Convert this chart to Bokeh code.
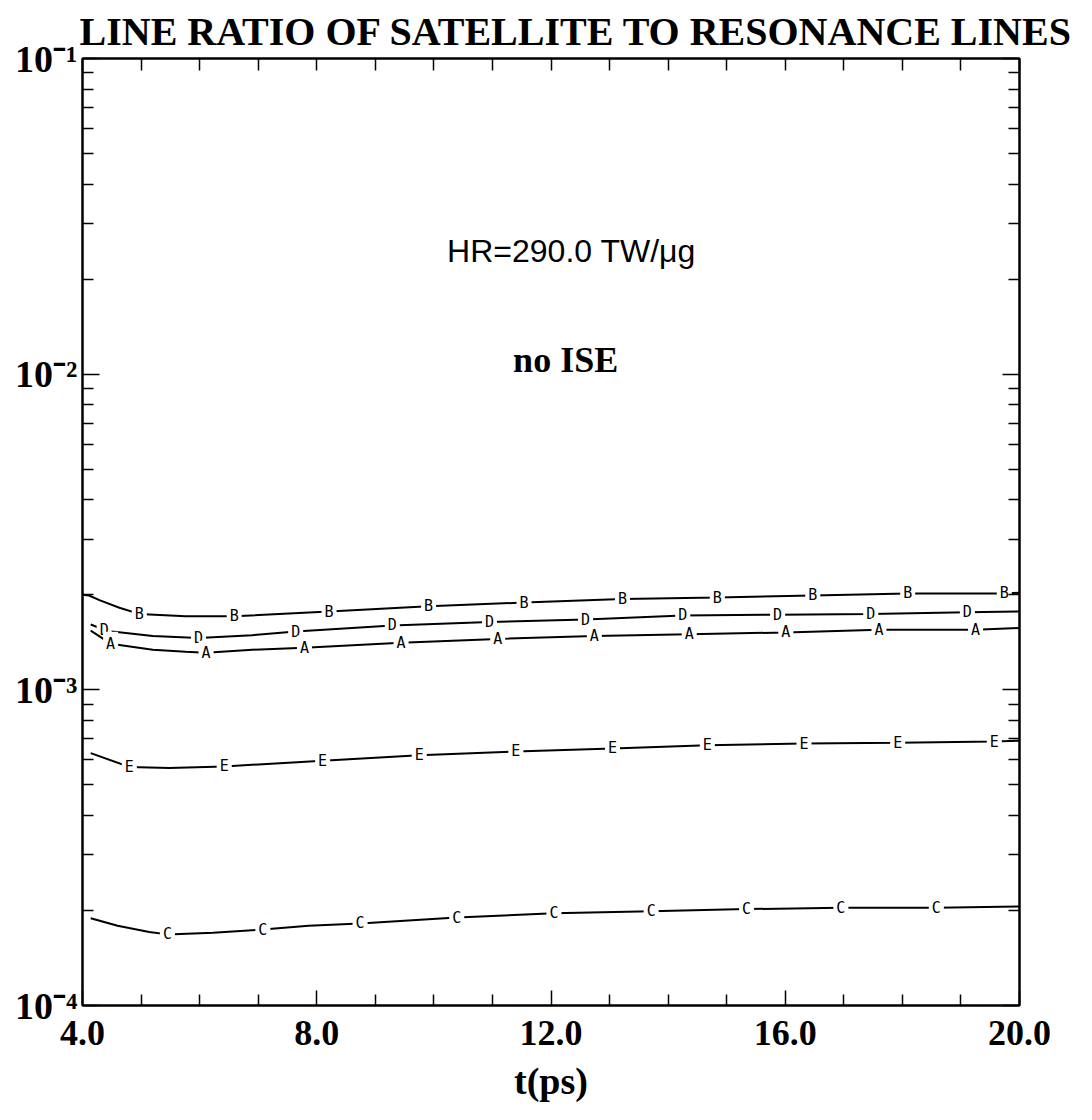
from bokeh.plotting import figure
from bokeh.models import FixedTicker, LinearAxis, LogAxis, Label
from bokeh.core.properties import value
from bokeh.embed import file_html
from bokeh.resources import INLINE

# ---------------- data ----------------
title_text = "LINE RATIO OF SATELLITE TO RESONANCE LINES"
x_axis_label = "t(ps)"
x_major_ticks = [4, 8, 12, 16, 20]
x_minor_ticks = [5, 6, 7, 9, 10, 11, 13, 14, 15, 17, 18, 19]
x_tick_labels = {4: "4.0", 8: "8.0", 12: "12.0", 16: "16.0", 20: "20.0"}
x_top_ticks = list(range(4, 21))
y_decades = [1e-4, 1e-3, 1e-2, 1e-1]
y_tick_labels = ["10\u207b\u2074", "10\u207b\u00b3", "10\u207b\u00b2", "10\u207b\u00b9"]
y_mantissas = [2, 3, 4, 5, 6, 7, 8, 9]

t_B = [4.0, 4.11, 4.30, 4.63, 4.97, 5.76, 6.59, 8.21, 9.91, 11.54, 13.22, 14.84, 16.47, 18.09, 19.74, 20.0]
v_B = [2.00e-3, 1.99e-3, 1.92e-3, 1.82e-3, 1.74e-3, 1.71e-3, 1.71e-3, 1.77e-3, 1.84e-3, 1.89e-3,
       1.94e-3, 1.96e-3, 1.99e-3, 2.02e-3, 2.02e-3, 2.03e-3]
lab_B = [4.97, 6.59, 8.21, 9.91, 11.54, 13.22, 14.84, 16.47, 18.09, 19.74]

t_D = [4.14, 4.37, 4.51, 5.20, 5.98, 6.90, 7.64, 9.29, 10.95, 12.59, 14.25, 15.87, 17.46, 19.11, 20.0]
v_D = [1.61e-3, 1.55e-3, 1.53e-3, 1.48e-3, 1.46e-3, 1.49e-3, 1.53e-3, 1.60e-3, 1.64e-3, 1.67e-3,
       1.72e-3, 1.73e-3, 1.74e-3, 1.76e-3, 1.77e-3]
lab_D = [4.37, 5.98, 7.64, 9.29, 10.95, 12.59, 14.25, 15.87, 17.46, 19.11]

t_A = [4.14, 4.48, 5.20, 5.76, 6.11, 6.90, 7.79, 9.44, 11.09, 12.74, 14.36, 16.01, 17.60, 19.25, 20.0]
v_A = [1.54e-3, 1.40e-3, 1.34e-3, 1.32e-3, 1.31e-3, 1.34e-3, 1.36e-3, 1.41e-3, 1.45e-3, 1.48e-3,
       1.50e-3, 1.52e-3, 1.55e-3, 1.55e-3, 1.57e-3]
lab_A = [4.48, 6.11, 7.79, 9.44, 11.09, 12.74, 14.36, 16.01, 17.60, 19.25]

t_E = [4.14, 4.80, 5.48, 6.42, 8.10, 9.75, 11.40, 13.05, 14.67, 16.32, 17.92, 19.57, 20.0]
v_E = [6.30e-4, 5.70e-4, 5.65e-4, 5.72e-4, 5.96e-4, 6.21e-4, 6.38e-4, 6.52e-4, 6.68e-4, 6.76e-4,
       6.80e-4, 6.86e-4, 6.90e-4]
lab_E = [4.80, 6.42, 8.10, 9.75, 11.40, 13.05, 14.67, 16.32, 17.92, 19.57]

t_C = [4.14, 4.60, 5.14, 5.45, 6.23, 7.08, 7.86, 8.74, 10.39, 12.05, 13.71, 15.34, 16.95, 18.58, 20.0]
v_C = [1.89e-4, 1.79e-4, 1.71e-4, 1.68e-4, 1.70e-4, 1.74e-4, 1.79e-4, 1.82e-4, 1.90e-4, 1.96e-4,
       1.99e-4, 2.02e-4, 2.04e-4, 2.04e-4, 2.06e-4]
lab_C = [5.45, 7.08, 8.74, 10.39, 12.05, 13.71, 15.34, 16.95, 18.58]

curves = [("B", t_B, v_B, lab_B), ("D", t_D, v_D, lab_D), ("A", t_A, v_A, lab_A),
          ("E", t_E, v_E, lab_E), ("C", t_C, v_C, lab_C)]

note1 = "HR=290.0 TW/\u03bcg"
note1_pos = (12.35, 0.0245)
note2 = "no ISE"
note2_pos = (12.25, 0.01107)

# ---------------- figure ----------------
SERIF = "Liberation Serif"
p = figure(frame_width=937, frame_height=947, x_range=(4, 20), y_range=(1e-4, 1e-1),
           y_axis_type="log", output_backend="svg", toolbar_location=None,
           min_border_left=82, min_border_right=57, min_border_top=58, min_border_bottom=96,
           background_fill_color="white", border_fill_color="white")
p.grid.visible = False
p.outline_line_color = "black"
p.outline_line_width = 2

p.title.text = title_text
p.title.text_font = SERIF
p.title.text_font_style = "bold"
p.title.text_font_size = "40px"
p.title.text_color = "black"
p.title.align = "left"
p.title.offset = -3
p.title.standoff = 10

xa = p.xaxis[0]
xa.ticker = FixedTicker(ticks=x_major_ticks, minor_ticks=x_minor_ticks)
xa.major_label_overrides = x_tick_labels
xa.axis_label = x_axis_label
xa.axis_line_width = 2
xa.major_tick_in = 15
xa.major_tick_out = 0
xa.minor_tick_in = 11
xa.minor_tick_out = 0
xa.major_tick_line_width = 1.5
xa.minor_tick_line_width = 1.5
xa.major_label_text_font = SERIF
xa.major_label_text_font_style = "bold"
xa.major_label_text_font_size = "36px"
xa.major_label_text_color = "black"
xa.major_label_standoff = 15
xa.axis_label_text_font = SERIF
xa.axis_label_text_font_style = "bold"
xa.axis_label_text_font_size = "38px"
xa.axis_label_text_color = "black"
xa.axis_label_standoff = 12

y_minor = [m * d for d in y_decades[:-1] for m in y_mantissas]
ya = p.yaxis[0]
ya.ticker = FixedTicker(ticks=y_decades, minor_ticks=y_minor)
ya.major_label_overrides = {d: lab for d, lab in zip(y_decades, y_tick_labels)}
ya.axis_line_width = 2
ya.major_tick_in = 17
ya.major_tick_out = 0
ya.minor_tick_in = 11
ya.minor_tick_out = 0
ya.major_tick_line_width = 1.5
ya.minor_tick_line_width = 1.5
ya.major_label_text_font = SERIF
ya.major_label_text_font_style = "bold"
ya.major_label_text_font_size = "38px"
ya.major_label_text_color = "black"
ya.major_label_standoff = 5

ra = LogAxis(ticker=FixedTicker(ticks=y_decades, minor_ticks=y_minor))
ra.axis_line_width = 2
ra.major_tick_in = 17
ra.major_tick_out = 0
ra.minor_tick_in = 11
ra.minor_tick_out = 0
ra.major_tick_line_width = 1.5
ra.minor_tick_line_width = 1.5
ra.major_label_text_color = None
ra.major_label_text_font_size = "1px"
ra.major_label_standoff = 0
p.add_layout(ra, "right")

ta = LinearAxis(ticker=FixedTicker(ticks=x_top_ticks, minor_ticks=[]))
ta.axis_line_width = 2
ta.major_tick_in = 12
ta.major_tick_out = 0
ta.minor_tick_in = 0
ta.minor_tick_out = 0
ta.major_tick_line_width = 1.5
ta.major_label_text_color = None
ta.major_label_text_font_size = "1px"
ta.major_label_standoff = 0
p.add_layout(ta, "above")

for name, ts, vs, labs in curves:
    p.line(ts, vs, line_color="black", line_width=2)
    ly = [vs[ts.index(tl)] for tl in labs]
    p.text(x=labs, y=ly, text=[name] * len(labs), text_font=value("DejaVu Sans Mono"),
           text_font_size="15px", text_align="center", text_baseline="middle",
           text_color="black", background_fill_color="white", padding=3)

p.add_layout(Label(x=note1_pos[0], y=note1_pos[1], text=note1, text_font="Liberation Sans",
                   text_font_size="32px", text_align="center", text_baseline="alphabetic",
                   text_color="black"))
p.add_layout(Label(x=note2_pos[0], y=note2_pos[1], text=note2, text_font=SERIF,
                   text_font_style="bold", text_font_size="36px", text_align="center",
                   text_baseline="alphabetic", text_color="black"))

open("out.html", "w").write(file_html(p, INLINE))
